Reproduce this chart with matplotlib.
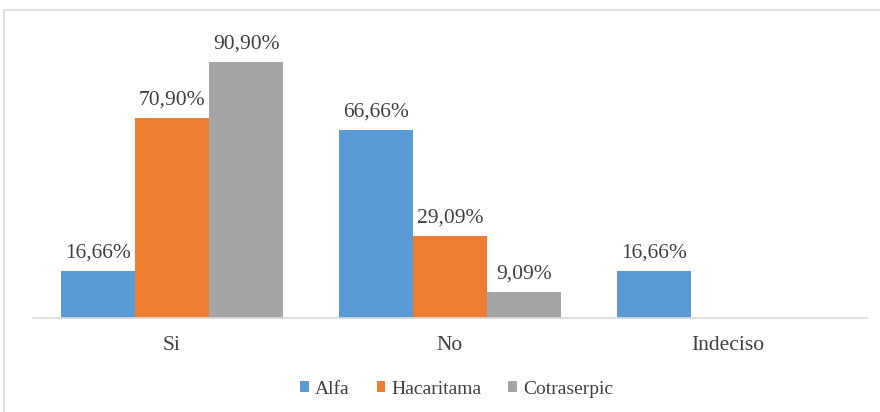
import matplotlib
matplotlib.use("Agg")
import matplotlib.pyplot as plt
from matplotlib.patches import Rectangle
import numpy as np

categories = ["Si", "No", "Indeciso"]
series = ["Alfa", "Hacaritama", "Cotraserpic"]
alfa = [16.66, 66.66, 16.66]
hacaritama = [70.90, 29.09, 0]
cotraserpic = [90.90, 9.09, 0]
labels_alfa = ["16,66%", "66,66%", "16,66%"]
labels_hac = ["70,90%", "29,09%", None]
labels_cot = ["90,90%", "9,09%", None]

colors = ["#5B9BD5", "#ED7D31", "#A5A5A5"]
FONT = "Liberation Serif"
plt.rcParams['font.family'] = [FONT, 'DejaVu Serif']

fig = plt.figure(figsize=(8.8, 4.12), dpi=100)
fig.patches.append(Rectangle((4/880, -0.01), 1.0, 1 - 10/412 + 0.01, transform=fig.transFigure,
                             fill=False, edgecolor="#D9D9D9", linewidth=1.2))
ax = fig.add_axes([33/880, 1 - 318/412, (867 - 33)/880, (318 - 36)/412])

x = np.arange(len(categories))
w = 0.267
data = [alfa, hacaritama, cotraserpic]
labs = [labels_alfa, labels_hac, labels_cot]
for i, (vals, lab, c, name) in enumerate(zip(data, labs, colors, series)):
    bars = ax.bar(x + (i - 1) * w, vals, width=w, color=c, label=name)
    for b, v, t in zip(bars, vals, lab):
        if t:
            ax.text(b.get_x() + b.get_width() / 2, v + 3, t, ha="center", va="bottom",
                    fontsize=15.5, color="#404040", family=FONT)

ax.set_xlim(-0.5, 2.5)
ax.set_ylim(0, 100)
ax.set_yticks([])
ax.set_xticks(x)
ax.set_xticklabels(categories, fontsize=15.5, color="#404040", family=FONT)
ax.tick_params(axis="x", length=0, pad=13)
for s in ["top", "right", "left"]:
    ax.spines[s].set_visible(False)
ax.spines["bottom"].set_color("#D9D9D9")
ax.spines["bottom"].set_linewidth(1.2)

leg = ax.legend(loc="upper center", bbox_to_anchor=(0.508, -0.16), ncol=3, frameon=False,
                prop={"family": FONT, "size": 14}, handlelength=0.45, handleheight=0.45,
                handletextpad=0.3, columnspacing=1.4)
for t in leg.get_texts():
    t.set_color("#404040")

fig.savefig("out.png", dpi=100)
